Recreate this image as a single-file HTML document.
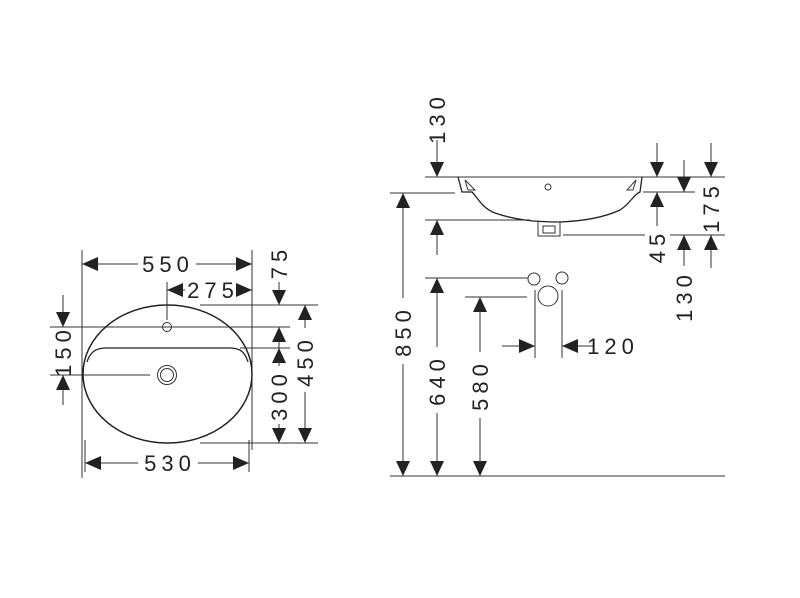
<!DOCTYPE html>
<html><head><meta charset="utf-8"><style>
html,body{margin:0;padding:0;background:#fff;}
svg{display:block;}
text{font-family:"Liberation Sans","DejaVu Sans",sans-serif;font-size:22px;fill:#222;letter-spacing:5px;}
</style></head><body>
<svg width="800" height="598" viewBox="0 0 800 598" xmlns="http://www.w3.org/2000/svg">
<g stroke="#333" stroke-width="1" fill="none">
<line x1="82" y1="250" x2="82" y2="478"/>
<line x1="252" y1="250" x2="252" y2="450"/>
<line x1="167" y1="282" x2="167" y2="320"/>
<line x1="85" y1="440" x2="85" y2="472"/>
<line x1="249" y1="440" x2="249" y2="472"/>
<line x1="50" y1="327" x2="290" y2="327"/>
<line x1="240" y1="348" x2="290" y2="348"/>
<line x1="50" y1="375" x2="150" y2="375"/>
<line x1="200" y1="305" x2="318" y2="305"/>
<line x1="200" y1="443" x2="318" y2="443"/>
<line x1="82" y1="264" x2="138" y2="264"/><line x1="196" y1="264" x2="252" y2="264"/>
<line x1="167" y1="290" x2="185" y2="290"/><line x1="240" y1="290" x2="252" y2="290"/>
<line x1="85" y1="463" x2="138" y2="463"/><line x1="198" y1="463" x2="249" y2="463"/>
<line x1="63" y1="295" x2="63" y2="327"/><line x1="63" y1="375" x2="63" y2="405"/>
<line x1="279" y1="282" x2="279" y2="305"/>
<line x1="279" y1="327" x2="279" y2="366"/><line x1="279" y1="424" x2="279" y2="443"/>
<line x1="305" y1="305" x2="305" y2="328"/><line x1="305" y1="392" x2="305" y2="443"/>
<ellipse cx="167.5" cy="374" rx="84.5" ry="69" stroke="#222" stroke-width="1.5"/>
<path d="M87 362 C90 352 96 348 106 348 L230 348 C240 348 245 352 248 362" stroke="#222" stroke-width="1.3"/>
<circle cx="167" cy="327" r="4.5"/>
<circle cx="167" cy="375" r="9.5"/><circle cx="167" cy="375" r="6.5"/>

<line x1="425" y1="177" x2="725" y2="177"/>
<line x1="390" y1="193" x2="455" y2="193"/>
<line x1="643" y1="192" x2="695" y2="192"/>
<line x1="425" y1="220" x2="530" y2="220"/>
<line x1="563" y1="235" x2="645" y2="235"/><line x1="670" y1="235" x2="725" y2="235"/>
<line x1="425" y1="278" x2="528" y2="278"/>
<line x1="465" y1="297" x2="527" y2="297"/>
<line x1="535" y1="290" x2="535" y2="358"/>
<line x1="562" y1="290" x2="562" y2="358"/>
<line x1="390" y1="476" x2="725" y2="476"/>
<path d="M458 177 L462 192 L472 192 C478 198 482 208 495 213 C515 220 535 222 560 222 C585 221 605 217 620 210 C630 204 633 195 640 192 L642 177" stroke="#222" stroke-width="1.3"/>
<path d="M465 180 L468 190 L475 190 Z M636 180 L633 190 L627 190 Z"/>
<path d="M538 222 L538 236 L560 236 L560 222 M543 226 L555 226 L555 233 L543 233 Z"/>
<circle cx="548" cy="187" r="3"/>
<circle cx="534" cy="279" r="6"/><circle cx="562" cy="278" r="6"/><circle cx="548" cy="296" r="10"/>
<line x1="437" y1="140" x2="437" y2="165"/>
<line x1="403" y1="193" x2="403" y2="298"/><line x1="403" y1="364" x2="403" y2="476"/>
<line x1="437" y1="220" x2="437" y2="255"/>
<line x1="437" y1="278" x2="437" y2="347"/><line x1="437" y1="413" x2="437" y2="476"/>
<line x1="480" y1="297" x2="480" y2="352"/><line x1="480" y1="418" x2="480" y2="476"/>
<line x1="657" y1="143" x2="657" y2="177"/><line x1="657" y1="192" x2="657" y2="226"/>
<line x1="684" y1="160" x2="684" y2="192"/><line x1="684" y1="235" x2="684" y2="266"/>
<line x1="711" y1="143" x2="711" y2="177"/><line x1="711" y1="235" x2="711" y2="268"/>
<line x1="502" y1="346" x2="535" y2="346"/><line x1="562" y1="346" x2="593" y2="346"/>
</g>
<g fill="#222">
<path d="M82 264 l16 -7 v14 z"/><path d="M252 264 l-16 -7 v14 z"/>
<path d="M167 290 l16 -7 v14 z"/><path d="M252 290 l-16 -7 v14 z"/>
<path d="M85 463 l16 -7 v14 z"/><path d="M249 463 l-16 -7 v14 z"/>
<path d="M535 346 l-16 -7 v14 z"/><path d="M562 346 l16 -7 v14 z"/>
<path d="M63 327 l-7 -15 h14 z"/><path d="M63 375 l-7 15 h14 z"/>
<path d="M279 305 l-7 -15 h14 z"/>
<path d="M279 327 l-7 15 h14 z"/><path d="M279 348 l-7 15 h14 z"/><path d="M279 443 l-7 -15 h14 z"/>
<path d="M305 305 l-7 15 h14 z"/><path d="M305 443 l-7 -15 h14 z"/>
<path d="M437 177 l-7 -15 h14 z"/>
<path d="M403 193 l-7 15 h14 z"/><path d="M403 476 l-7 -15 h14 z"/>
<path d="M437 220 l-7 15 h14 z"/>
<path d="M437 278 l-7 15 h14 z"/><path d="M437 476 l-7 -15 h14 z"/>
<path d="M480 297 l-7 15 h14 z"/><path d="M480 476 l-7 -15 h14 z"/>
<path d="M657 177 l-7 -15 h14 z"/><path d="M657 192 l-7 15 h14 z"/>
<path d="M684 192 l-7 -15 h14 z"/><path d="M684 235 l-7 15 h14 z"/>
<path d="M711 177 l-7 -15 h14 z"/><path d="M711 235 l-7 15 h14 z"/>
</g>
<text x="168" y="272" text-anchor="middle">550</text>
<text x="213" y="298" text-anchor="middle">275</text>
<text x="170" y="471" text-anchor="middle">530</text>
<text x="613" y="354" text-anchor="middle">120</text>
<text transform="translate(71,351) rotate(-90)" text-anchor="middle">150</text>
<text transform="translate(287,262) rotate(-90)" text-anchor="middle">75</text>
<text transform="translate(287,395) rotate(-90)" text-anchor="middle">300</text>
<text transform="translate(313,361) rotate(-90)" text-anchor="middle">450</text>
<text transform="translate(445,118) rotate(-90)" text-anchor="middle">130</text>
<text transform="translate(411,331) rotate(-90)" text-anchor="middle">850</text>
<text transform="translate(445,380) rotate(-90)" text-anchor="middle">640</text>
<text transform="translate(488,385) rotate(-90)" text-anchor="middle">580</text>
<text transform="translate(665,246) rotate(-90)" text-anchor="middle">45</text>
<text transform="translate(692,296) rotate(-90)" text-anchor="middle">130</text>
<text transform="translate(719,207) rotate(-90)" text-anchor="middle">175</text>
</svg>
</body></html>
